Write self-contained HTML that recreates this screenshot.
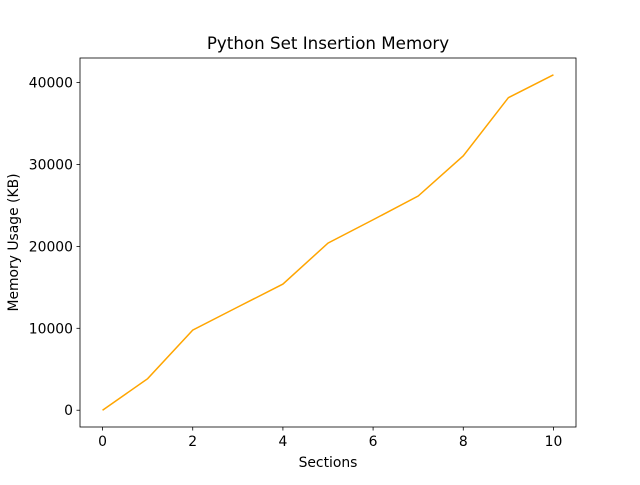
<!DOCTYPE html>
<html><head><meta charset="utf-8"><style>
body{margin:0;background:#fff;}
svg text{font-family:"DejaVu Sans","Liberation Sans",sans-serif;fill:#000;}
</style></head><body>
<svg id="chart" width="640" height="480">
<rect width="640" height="480" fill="#fff"/>
<g id="g"></g>
</svg>
<script>
const sections=[0,1,2,3,4,5,6,7,8,9,10];
const memory=[0,3850,9780,12600,15400,20400,23250,26150,31050,38150,40950];
const xTicks=[0,2,4,6,8,10];
const yTicks=[0,10000,20000,30000,40000];
const L=80,R=576,T=58,B=427;
const xmin=-0.5,xmax=10.5,ymin=-2047.5,ymax=42997.5;
const sx=v=>L+(v-xmin)/(xmax-xmin)*(R-L);
const sy=v=>B-(v-ymin)/(ymax-ymin)*(B-T);
const g=document.getElementById('g');
const NS='http://www.w3.org/2000/svg';
function mk(t,a){const e=document.createElementNS(NS,t);for(const k in a)e.setAttribute(k,a[k]);g.appendChild(e);return e;}
const pts=sections.map((s,i)=>sx(s)+','+sy(memory[i])).join(' ');
const line=mk('polyline',{points:pts,fill:'none',stroke:'#ffa500','stroke-width':1.5});


const frame=mk('rect',{x:L,y:T,width:R-L,height:B-T,fill:'none',stroke:'#000','stroke-width':0.8});


xTicks.forEach(v=>{const x=sx(v);
const tk=mk('line',{x1:x,x2:x,y1:B,y2:B+3.5,stroke:'#000','stroke-width':0.8});


const t=mk('text',{x:x,y:B+19,'font-size':13.9,'text-anchor':'middle'});t.textContent=v;

});
yTicks.forEach(v=>{const y=sy(v);
const tk=mk('line',{x1:L-3.5,x2:L,y1:y,y2:y,stroke:'#000','stroke-width':0.8});


const t=mk('text',{x:L-7,y:y+5,'font-size':13.9,'text-anchor':'end'});t.textContent=v;

});
const ti=mk('text',{x:(L+R)/2,y:49,'font-size':16.7,'text-anchor':'middle'});ti.textContent='Python Set Insertion Memory';


const xl=mk('text',{x:(L+R)/2,y:467,'font-size':13.9,'text-anchor':'middle'});xl.textContent='Sections';


const yl=mk('text',{x:18,y:(T+B)/2,'font-size':13.9,'text-anchor':'middle',transform:'rotate(-90 18 '+((T+B)/2)+')'});yl.textContent='Memory Usage (KB)';


</script>
</body></html>
